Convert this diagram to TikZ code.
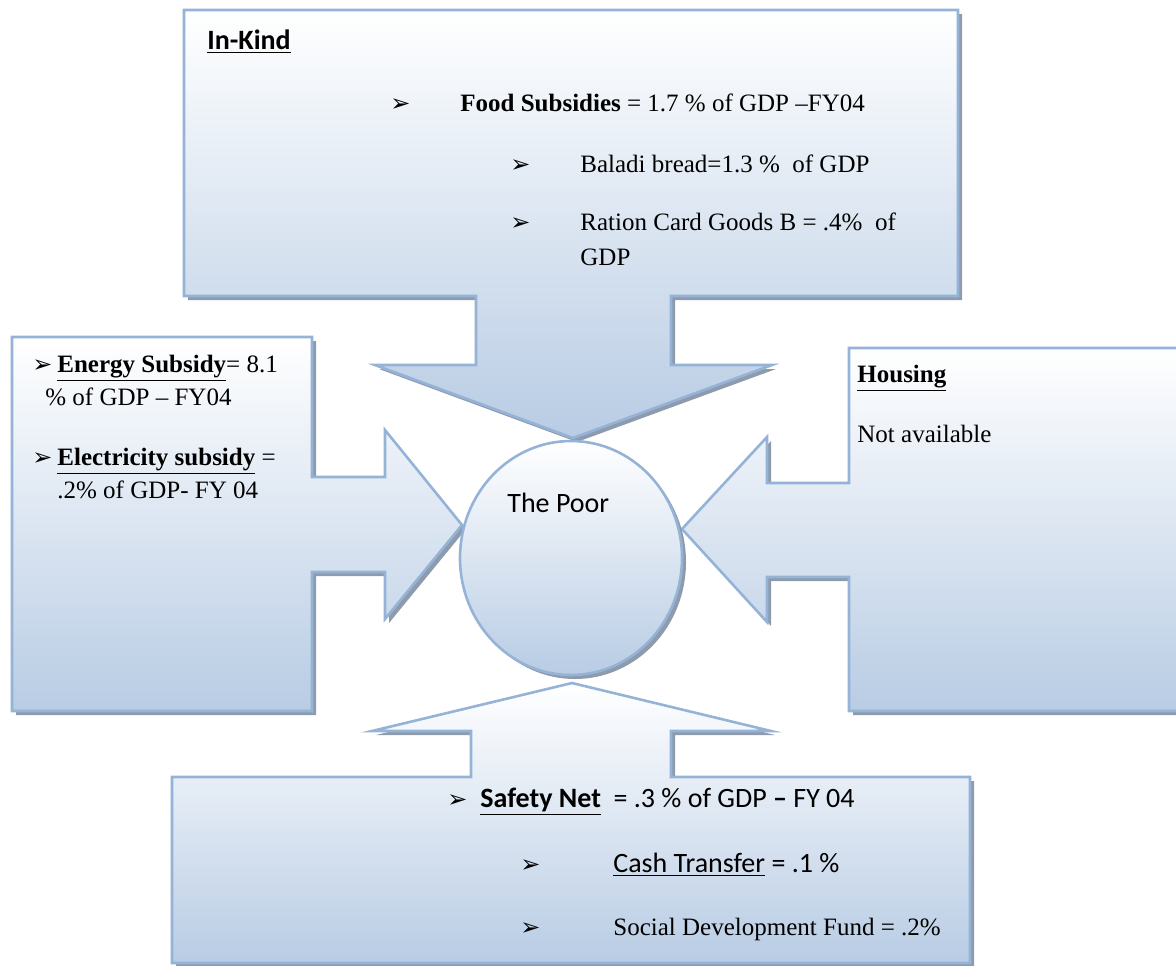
\documentclass[tikz,border=0pt]{standalone}
\usepackage{fontspec}
\setmainfont{Liberation Serif}
\newfontfamily\calibrifont{Carlito}
\newfontfamily\dingfont{DejaVu Sans}
\usetikzlibrary{shapes.geometric}
\definecolor{calloutline}{HTML}{95B3D7}
\definecolor{calloutfill}{HTML}{B8CCE4}
\definecolor{calloutshade}{HTML}{8D9BAD}
\newcommand{\arrowbullet}{{\dingfont\fontsize{12}{12}\selectfont\char"27A2}}
\begin{document}
\begin{tikzpicture}[x=0.5pt,y=-0.5pt,
  callout/.style={draw=calloutline,line width=1.3pt,top color=white,bottom color=calloutfill,
    preaction={fill=calloutshade,transform canvas={shift={(2pt,-2pt)}}}},
  txt/.style={anchor=base west,inner sep=0pt,font=\fontsize{12.5}{17}\selectfont},
  sans/.style={anchor=base west,inner sep=0pt,font=\calibrifont\fontsize{14}{17}\selectfont},
  bul/.style={anchor=base west,inner sep=0pt}]
  \clip (0,0) rectangle (1176,965);
  \path[callout] (184,10) -- (958,10) -- (958,296) -- (671,296) -- (671,365) -- (772,365)
    -- (573,438) -- (375,365) -- (476,365) -- (476,296) -- (184,296) -- cycle;
  \path[callout] (12,337) -- (312,337) -- (312,477) -- (385,477) -- (385,430) -- (462,525)
    -- (385,619) -- (385,572) -- (312,572) -- (312,711) -- (12,711) -- cycle;
  \path[callout] (849,348) -- (1190,348) -- (1190,711) -- (849,711) -- (849,577) -- (767,577)
    -- (767,622) -- (682,529) -- (767,437) -- (767,483) -- (849,483) -- cycle;
  \path[callout] (172,777) -- (471,777) -- (471,731) -- (372,731) -- (572,683) -- (771,731)
    -- (671,731) -- (671,777) -- (970,777) -- (970,963) -- (172,963) -- cycle;
  \node[callout,ellipse,minimum width=111pt,minimum height=117pt,inner sep=0pt] (poor) at (571,558) {};
  \node[sans] (poorlabel) at (507,512) {The Poor};
  \foreach \bx/\by [count=\i] in {390/111,510/172,510/230,32/372,32/465,447/807,520/872,520/935}
    \node[bul] (bullet\i) at (\bx,\by) {\arrowbullet};
  \node[sans] (inkind) at (207,49) {\textbf{\underline{In-Kind}}};
  \node[txt] (food) at (460,111) {\textbf{Food Subsidies} = 1.7 \% of GDP –FY04};
  \node[txt] (bread) at (580,172) {Baladi bread=1.3 \%\ \ of GDP};
  \node[txt] (ration) at (580,230) {Ration Card Goods B = .4\%\ \ of};
  \node[txt] (rationgdp) at (580,265) {GDP};
  \node[txt] (energy) at (57,372) {\textbf{\underline{Energy Subsidy}}= 8.1};
  \node[txt] (energygdp) at (45,405) {\% of GDP – FY04};
  \node[txt] (elec) at (57,465) {\textbf{\underline{Electricity subsidy}} =};
  \node[txt] (elecgdp) at (57,498) {.2\% of GDP- FY 04};
  \node[txt] (housing) at (857,382) {\textbf{\underline{Housing}}};
  \node[txt] (notavail) at (857,442) {Not available};
  \node[sans] (safety) at (480,807) {\textbf{\underline{Safety Net}}\ \ = .3 \% of GDP \textbf{–} FY 04};
  \node[sans] (cash) at (613,872) {\underline{Cash Transfer} = .1 \%};
  \node[txt] (sdf) at (613,935) {Social Development Fund = .2\%};
\end{tikzpicture}
\end{document}
